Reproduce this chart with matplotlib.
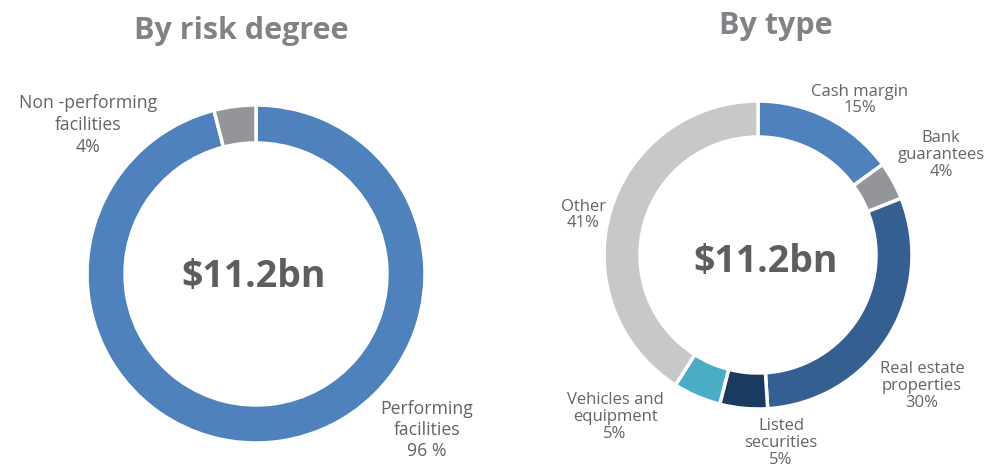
import matplotlib.pyplot as plt

plt.rcParams['font.family'] = ['Open Sans', 'DejaVu Sans']

# left donut: by risk degree
risk_labels = ['Performing\nfacilities\n96 %', 'Non -performing\nfacilities\n4%']
risk_values = [96, 4]
risk_colors = ['#4f81bd', '#939598']

# right donut: by type
type_labels = ['Cash margin\n15%', 'Bank\nguarantees\n4%', 'Real estate\nproperties\n30%',
               'Listed\nsecurities\n5%', 'Vehicles and\nequipment\n5%', 'Other\n41%']
type_values = [15, 4, 30, 5, 5, 41]
type_colors = ['#4f81bd', '#939598', '#365f91', '#1b3a5f', '#4bacc6', '#c7c8ca']

total_text = '$11.2bn'

W, H = 989, 467
fig = plt.figure(figsize=(W / 100, H / 100), dpi=100)
ax = fig.add_axes([0, 0, 1, 1])

label_color = '#636466'
title_color = '#808285'
center_color = '#5d5e60'

# (center_x, center_y, radius, ring width) in pixels, y from top
left = (256, 274, 169, 38)
right = (758, 255, 154, 36)

for (cx, cy, r, w), vals, cols in [(left, risk_values, risk_colors),
                                    (right, type_values, type_colors)]:
    ax.pie(vals, colors=cols, startangle=90, counterclock=False,
           center=(cx, H - cy), radius=r,
           wedgeprops=dict(width=w, edgecolor='white', linewidth=2.5))

ax.set_xlim(0, W)
ax.set_ylim(0, H)
ax.set_aspect('equal')
ax.axis('off')

# label positions (pixel, y from top)
risk_pos = [(427, 430), (88, 125)]
type_pos = [(860, 100), (941, 155), (922, 386), (781, 443), (615, 417), (583, 215)]

for (x, y), t in zip(risk_pos, risk_labels):
    ax.text(x, H - y, t, ha='center', va='center', fontsize=12.7,
            color=label_color, linespacing=1.25)
for (x, y), t in zip(type_pos, type_labels):
    ax.text(x, H - y, t, ha='center', va='center', fontsize=12,
            color=label_color, linespacing=1.05)

ax.text(241, H - 31, 'By risk degree', ha='center', va='center',
        fontsize=22, fontweight='bold', color=title_color)
ax.text(776, H - 26, 'By type', ha='center', va='center',
        fontsize=22, fontweight='bold', color=title_color)

ax.text(left[0] - 2, H - 277, total_text, ha='center', va='center',
        fontsize=27, fontweight='bold', color=center_color)
ax.text(766, H - 262, total_text, ha='center', va='center',
        fontsize=27, fontweight='bold', color=center_color)

fig.savefig('out.png', dpi=100)
